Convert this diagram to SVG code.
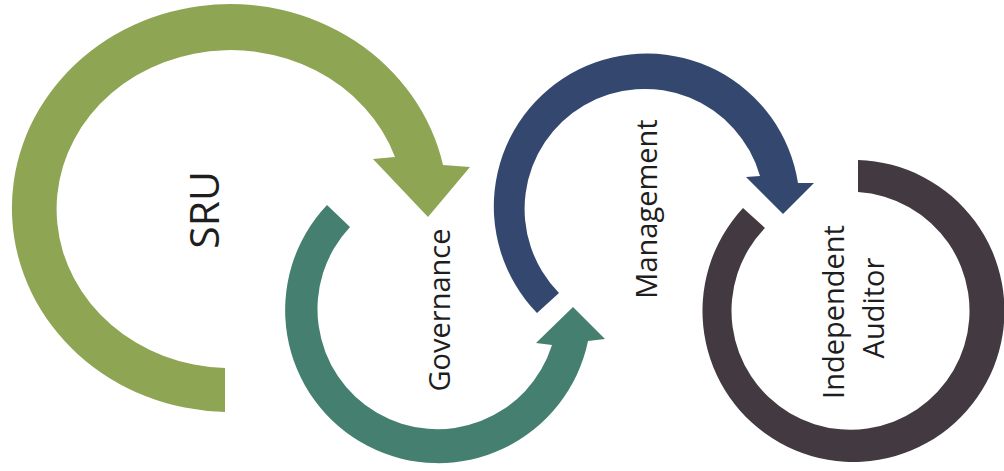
<svg xmlns="http://www.w3.org/2000/svg" width="1004" height="471" viewBox="0 0 1004 471">
  <style>
    .lbl { font-family: "Open Sans", "Liberation Sans", sans-serif; font-size: 29px; fill: #1e1e1e; text-anchor: middle; }
    .big { font-size: 41px; }
    .sru { fill: #8ea553; }
    .gov { fill: #457f6f; }
    .mgt { fill: #34486f; }
    .aud { fill: #433a41; }
  </style>
  <rect width="1004" height="471" fill="#ffffff"/>
  <g id="sru">
    <path class="sru" d="M225,412 A218,204 0 1,1 443,165 L470,167 L428,217 L373,159 L395,157 A174,159 0 1,0 225,368 Z"/>
    <text class="lbl big" transform="translate(219,210) rotate(-90)">SRU</text>
  </g>
  <g id="governance">
    <path class="gov" d="M327,205 A153,153 0 1,0 588,341 L605,339 L573,307 L536,343 L552,345 A120,120 0 1,1 350,227 Z"/>
    <text class="lbl" transform="translate(450,310) rotate(-90)">Governance</text>
  </g>
  <g id="management">
    <path class="mgt" d="M537,313 A153,153 0 1,1 798,183 L814,183 L783,214 L746,177 L760,176 A120,120 0 1,0 559,293 Z"/>
    <text class="lbl" transform="translate(657,209) rotate(-90)">Management</text>
  </g>
  <g id="independent-auditor">
    <path class="aud" d="M858,160 A151,151 0 1,1 743,208 L765,228 A119,119 0 1,0 858,192 Z"/>
    <text class="lbl" transform="translate(844,312) rotate(-90)">Independent</text>
    <text class="lbl" transform="translate(884,308) rotate(-90)">Auditor</text>
  </g>
  <g id="connectors"></g>
</svg>
